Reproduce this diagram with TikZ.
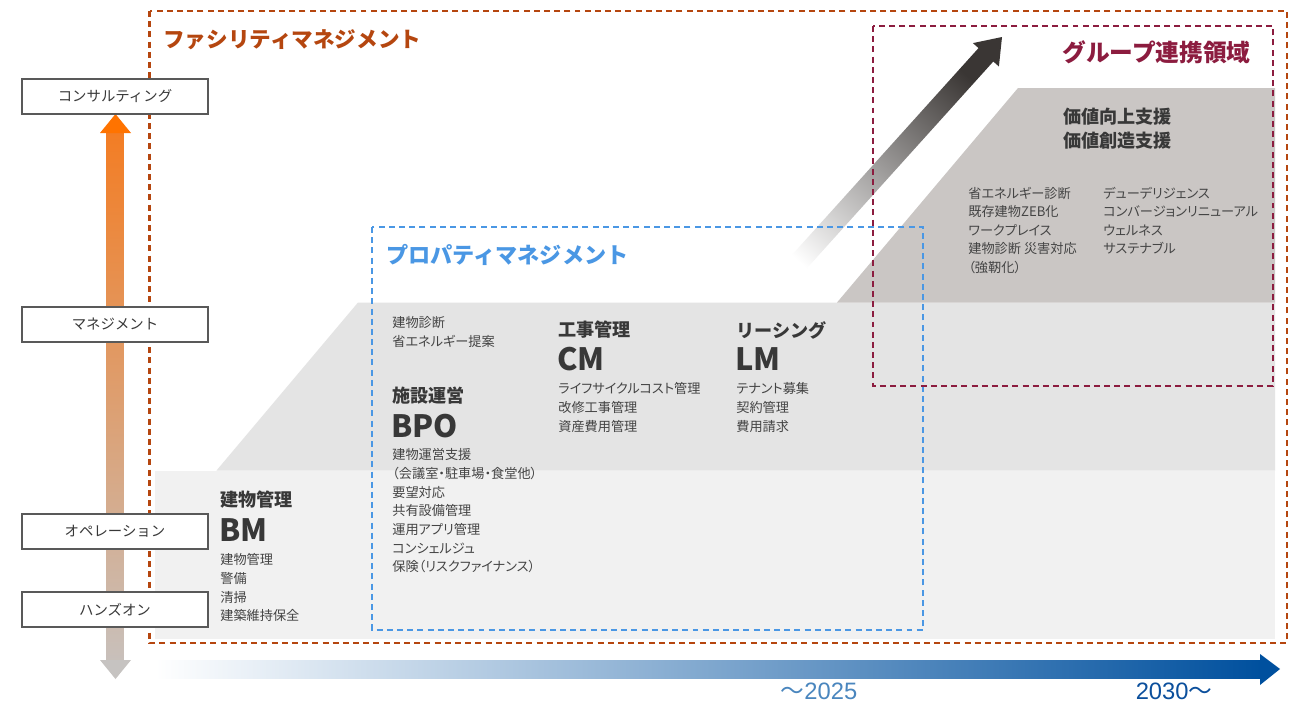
\documentclass[tikz,border=0pt]{standalone}
\usepackage{fontspec}
\setmainfont{Noto Sans CJK JP}
\newfontfamily\pfont[RawFeature=+palt]{Noto Sans CJK JP}
\newfontfamily\numfont{Liberation Sans}
\usetikzlibrary{calc}
\definecolor{fmC}{HTML}{B5460F}
\definecolor{pmC}{HTML}{4A97E4}
\definecolor{grpC}{HTML}{8C1C3F}
\definecolor{tierA}{HTML}{F1F1F1}
\definecolor{tierB}{HTML}{E4E4E4}
\definecolor{tierC}{HTML}{CAC6C4}
\definecolor{txtD}{HTML}{383838}
\definecolor{txtL}{HTML}{444444}
\definecolor{arrD}{HTML}{3A3634}
\definecolor{arrM}{HTML}{8A8887}
\definecolor{orgA}{HTML}{FF7300}
\definecolor{orgB}{HTML}{F37D24}
\definecolor{orgM}{HTML}{E29E72}
\definecolor{grA}{HTML}{C8C0BB}
\definecolor{grH}{HTML}{C6C3C1}
\definecolor{bluD}{HTML}{00509E}
\definecolor{yrA}{HTML}{4A86BE}
\definecolor{yrB}{HTML}{0B4F9C}
\begin{document}
\begin{tikzpicture}[x=0.02cm, y=-0.02cm,
  dashbox/.style={line width=1.5pt, dash pattern=on 3.4pt off 2.4pt},
  axbox/.style={draw=black!65, line width=0.7pt, fill=white, minimum width=3.72cm, minimum height=0.7cm, inner sep=0, font=\fontsize{8.2}{10}\selectfont, text=txtD},
  ttl/.style={anchor=west, inner sep=0, font=\bfseries\fontsize{12.3}{14}\selectfont},
  hd/.style={anchor=west, inner sep=0, text=txtD, font=\bfseries\fontsize{10.3}{13.6}\selectfont},
  big/.style={anchor=west, inner sep=0, text=txtD, font=\bfseries\fontsize{17.5}{20}\selectfont},
  lst/.style={anchor=north west, inner sep=0, align=left, text=txtL, font=\pfont\fontsize{7.5}{10.6}\selectfont},
  yr/.style={inner sep=0, font=\fontsize{13.5}{15}\selectfont}]
\useasboundingbox[fill=white] (0,0) rectangle (1307,703);

% tiers
\fill[tierA] (155,470.5) rectangle (1275,639);
\fill[tierB] (216.5,470.5) -- (358,302.5) -- (1275,302.5) -- (1275,470.5) -- cycle;
\fill[tierC] (837,302.5) -- (1018,88) -- (1275,88) -- (1275,302.5) -- cycle;

% diagonal growth arrow
\shade[top color=arrD, middle color=arrM, bottom color=white, shading angle=-42]
  (763.6,286.4) -- (978.5,48.1) -- (972.9,43.1) -- (1002,37) -- (998.9,66.5) -- (993.3,61.5) -- (778.4,299.8) -- cycle;

% vertical axis arrow
\shade[top color=orgB, middle color=orgM, bottom color=grA] (106.5,132) rectangle (123.5,661);
\fill[orgA] (100,133) -- (115.5,114) -- (131,133) -- cycle;
\fill[grH] (100,660) -- (115.5,679) -- (131,660) -- cycle;

% horizontal time arrow
\shade[left color=white, right color=bluD] (155,660) rectangle (1261,678);
\fill[bluD] (1260,654) -- (1280,669) -- (1260,685) -- cycle;

% dashed areas
\draw[dashbox, fmC] (149.5,11) rectangle (1287,643);
\draw[dashbox, pmC] (372,227) rectangle (923,630);
\draw[dashbox, grpC] (873,26) rectangle (1273,386);

% axis boxes
\node[axbox] (cons) at (115,96.5) {コンサルティング};
\node[axbox] (mgmt) at (115,324.5) {マネジメント};
\node[axbox] (oper) at (115,531.5) {オペレーション};
\node[axbox] (hand) at (115,609.5) {ハンズオン};

% titles
\node[ttl, text=fmC] (fmT) at (163,40) {ファシリティマネジメント};
\node[ttl, text=pmC, font=\bfseries\fontsize{12.6}{14}\selectfont] (pmT) at (386,255) {プロパティマネジメント};
\node[ttl, text=grpC, font=\bfseries\fontsize{13.5}{15}\selectfont] (grT) at (1062,52) {グループ連携領域};

% BM
\node[hd] (bmH) at (220,500) {建物管理};
\node[big] (bmB) at (219,530) {BM};
\node[lst] (bmL) at (220,553.5) {建物管理\\警備\\清掃\\建築維持保全};

% BPO
\node[lst] (bpoU) at (392,316.5) {建物診断\\省エネルギー提案};
\node[hd] (bpoH) at (392,396) {施設運営};
\node[big] (bpoB) at (391,426) {BPO};
\node[lst] (bpoL) at (392,448.5) {建物運営支援\\（会議室・駐車場・食堂他）\\要望対応\\共有設備管理\\運用アプリ管理\\コンシェルジュ\\保険（リスクファイナンス）};

% CM
\node[hd] (cmH) at (558,330) {工事管理};
\node[big] (cmB) at (557,359) {CM};
\node[lst] (cmL) at (558,382.5) {ライフサイクルコスト管理\\改修工事管理\\資産費用管理};

% LM
\node[hd] (lmH) at (736,330) {リーシング};
\node[big] (lmB) at (735,359) {LM};
\node[lst] (lmL) at (736,382.5) {テナント募集\\契約管理\\費用請求};

% group
\node[hd, anchor=north west, align=left] (vH) at (1063,108) {価値向上支援\\価値創造支援};
\node[lst] (vL1) at (968,186.5) {省エネルギー診断\\既存建物ZEB化\\ワークプレイス\\建物診断 災害対応\\（強靭化）};
\node[lst] (vL2) at (1103,186.5) {デューデリジェンス\\コンバージョンリニューアル\\ウェルネス\\サステナブル};

% years
\node[yr, text=yrA] (y1) at (819,691) {〜{\numfont 2025}};
\node[yr, text=yrB] (y2) at (1174,691) {{\numfont 2030}〜};
\end{tikzpicture}
\end{document}
